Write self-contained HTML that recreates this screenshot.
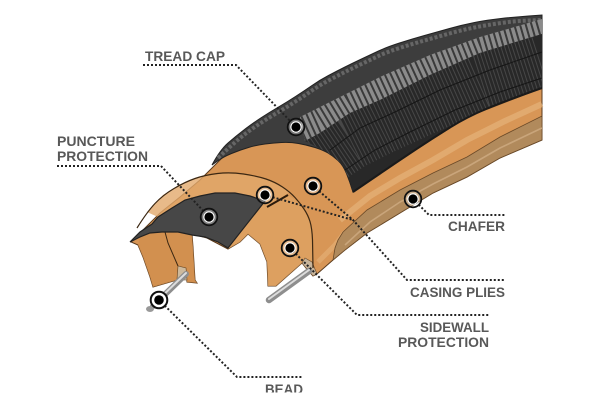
<!DOCTYPE html>
<html>
<head>
<meta charset="utf-8">
<style>
  html, body { margin: 0; padding: 0; background: #ffffff; overflow: hidden; }
  svg { display: block; }
  text { font-family: "Liberation Sans", Arial, sans-serif; font-weight: bold; fill: #585858; font-size: 14px; }
</style>
</head>
<body>
<svg width="600" height="409" viewBox="0 0 600 409" xmlns="http://www.w3.org/2000/svg">
  <defs>
    <clipPath id="lb">
      <path d="M300,117 L320,107 L350,92 L380,77 L430,55 L480,37 L542,19 L542,34 L480,53 L430,75 L380,100 L350,113 L320,133 L305,141 Z"/>
    </clipPath>
    <clipPath id="rb">
      <path d="M305,141 L320,133 L350,113 L380,100 L430,75 L480,53 L542,34 L542,88 L505,101 L467,117 L433,138 L400,160 L375,177 L353,192 L350,182 L343,165 L333,156 L323,150 Z"/>
    </clipPath>
    <clipPath id="chf">
      <path d="M343,232 L367,210 L400,190 L433,173 L467,157 L500,137 L542,116 L542,140 L500,158 L467,177 L433,193 L400,213 L367,233 L345,250 L333,260 L335,248 L338,240 Z"/>
    </clipPath>
  </defs>

  <rect x="0" y="0" width="600" height="409" fill="#ffffff"/>

  <!-- Orange casing mass -->
  <path d="M131,242 L145,228 L160,213 L180,197 L200,180 L213,167 L240,140 L290,130 L340,150 L353,192
           L400,160 L467,117 L542,88 L542,140
           L500,158 L467,177 L433,193 L400,213 L367,233 L345,250 L333,260
           L317,274 L313,276 L306,268 L302,263 L276,286 L268,286
           L267,262 L260,244 L248,234 L240,242 L228,249 L207,238 L192,234
           L193,247 L195,280 L197,283 L187,282 L186,268 L178,266 L177,280 L153,287
           L150,277 L143,257 L138,245 Z"
        fill="#d89656" stroke="#5a3a1c" stroke-width="1"/>

  <!-- tint variations on the front face -->
  <path d="M147,212 L163,195 L185,182 L205,175 L230,172 L257,176 L275,182 L290,192 L267,207 L265,201 L235,193 L200,196 L172,208 L158,217 Z" fill="#e2a96c" opacity="0.8"/>
  <path d="M265,201 L288,195 L300,203 L308,215 L312,228 L313,268 L302,263 L276,286 L268,286 L267,262 L260,244 L248,234 L240,242 L228,249 Z" fill="#dfa263" opacity="0.8"/>
  <path d="M140,237 L150,233 L162,232 L178,232 L192,235 L193,247 L195,280 L197,283 L187,282 L186,268 L178,266 L177,280 L153,287 L150,277 L143,257 L138,245 Z" fill="#d18f4e" opacity="0.8"/>

  <!-- sidewall lighter stripe -->
  <path d="M340,220 L370,196 L400,178 L433,160 L467,140 L505,121 L542,104" fill="none" stroke="#e6b27a" stroke-width="6" opacity="0.7"/>
  <path d="M318,262 L335,245 L345,232" fill="none" stroke="#e6b27a" stroke-width="5" opacity="0.6"/>

  <!-- Chafer band -->
  <path d="M343,232 L367,210 L400,190 L433,173 L467,157 L500,137 L542,116 L542,140 L500,158 L467,177 L433,193 L400,213 L367,233 L345,250 L333,260 L335,248 L338,240 Z"
        fill="#b18a5c" stroke="#6b4a28" stroke-width="0.8"/>
  <path d="M345,245 L370,222 L400,202 L433,184 L467,167 L500,148 L542,128" fill="none" stroke="#c9a57b" stroke-width="1.6" clip-path="url(#chf)"/>

  <!-- bead notch tabs -->
  <path d="M302,263 L306,268 L313,276 L317,274 L312,262 L305,258 Z" fill="#c7b49a" stroke="#6b4a28" stroke-width="0.6"/>
  <path d="M178,266 L186,268 L187,280 L177,280 Z" fill="#cdb99c" stroke="#6b4a28" stroke-width="0.6"/>

  <!-- internal casing lines -->
  <path d="M137,228 Q147,212 155,203.5 Q163,195 174,188.5 Q185,182 195,178.5 Q205,175 217.5,173.5 Q230,172 243.5,174 Q257,176 266,179 Q275,182 282.5,187 Q290,192 295,197.5 Q300,203 304,209 Q308,215 310,221.5 Q312,228 312.5,240 L313,268" fill="none" stroke="#3b2712" stroke-width="1.2"/>
  <path d="M267,207 L288,195" fill="none" stroke="#2b1b0c" stroke-width="2"/>
  <path d="M165,232 L168,243 L178,266" fill="none" stroke="#3b2712" stroke-width="1"/>

  <!-- Tread cap -->
  <path d="M212,165 Q220,150 228,143 Q236,136 244.5,129.5 Q253,123 261.5,117.5 Q270,112 278.5,107 Q287,102 295.5,96.5 Q304,91 312,85.5 Q320,80 328.5,75.5 Q337,71 345,67 Q353,63 361.5,59 Q370,55 378.5,51 Q387,47 399.5,43 Q412,39 424.5,35.5 Q437,32 449.5,28.5 Q462,25 474.5,22.5 Q487,20 501,18.5 Q515,17 528.5,16 L542,15
           L542,88 Q505,101 486,109 Q467,117 450,127.5 Q433,138 416.5,149 Q400,160 387.5,168.5 Q375,177 364,184.5 L353,192
           Q350,182 346.5,173.5 Q343,165 338,160.5 Q333,156 328,153 Q323,150 315,147.5 Q307,145 298.5,143.5 Q290,142 281.5,142.5 Q273,143 265,144 Q257,145 248.5,147.5 Q240,150 231.5,153.5 Q223,157 217.5,161 Z"
        fill="#3d3d3d" stroke="#222" stroke-width="1"/>
  <!-- small blocks along outer edge -->
  <path d="M218,158 Q236,141 244.5,134.5 Q253,128 261.5,122.5 Q270,117 278.5,112 Q287,107 295.5,101.5 Q304,96 312,90.5 Q320,85 328.5,80.5 Q337,76 345,72 Q353,68 361.5,64 Q370,60 378.5,56 Q387,52 399.5,48 Q412,44 424.5,40.5 Q437,37 449.5,33.5 Q462,30 474.5,27.5 Q487,25 501,23 Q515,21 528.5,20.5 L542,20"
        fill="none" stroke="#666" stroke-width="4" stroke-dasharray="3 2"/>
  <!-- light blocks band -->
  <path d="M300,117 L320,107 L350,92 L380,77 L430,55 L480,37 L542,19 L542,34 L480,53 L430,75 L380,100 L350,113 L320,133 L305,141 Z" fill="#8b8b8b"/>
  <path d="M300,129 L320,120 L350,102 L380,88 L430,65 L480,45 L542,27" fill="none" stroke="#3a3a3a" stroke-width="34" stroke-dasharray="2 3.5" clip-path="url(#lb)"/>
  <!-- ribbed region -->
  <path d="M305,141 L320,133 L350,113 L380,100 L430,75 L480,53 L542,34 L542,88 L505,101 L467,117 L433,138 L400,160 L375,177 L353,192 L350,182 L343,165 L333,156 L323,150 Z" fill="#282828"/>
  <path d="M320,160 L350,140 L380,125 L430,102 L480,80 L542,60" fill="none" stroke="#474747" stroke-width="60" stroke-dasharray="1 2.6" clip-path="url(#rb)"/>
  <path d="M330,150 L360,128 L395,112 L440,90 L490,70 L542,52" fill="none" stroke="#161616" stroke-width="1"/>
  <path d="M345,170 L375,150 L410,132 L455,110 L500,92 L542,78" fill="none" stroke="#161616" stroke-width="1"/>
  <path d="M542,88 Q505,101 486,109 Q467,117 450,127.5 Q433,138 416.5,149 Q400,160 387.5,168.5 Q375,177 364,184.5 L353,192" fill="none" stroke="#1a1a1a" stroke-width="2"/>

  <!-- Puncture protection strip -->
  <path d="M130,242 L140,232 L152,224 L158,217 L172,208 L185,200 L200,196 L215,193 L235,193 L250,196 L265,201 L228,248 L218,242 L205,237 L192,235 L178,232 L162,232 L150,233 L140,237 Z"
        fill="#474747" stroke="#222" stroke-width="1.2"/>

  <!-- Bead wires -->
  <line x1="186" y1="274" x2="153" y2="306" stroke="#8e8e8e" stroke-width="6" stroke-linecap="round"/>
  <line x1="186" y1="273" x2="153" y2="305" stroke="#dcdcdc" stroke-width="2" stroke-linecap="round"/>
  <line x1="309" y1="271" x2="269" y2="300" stroke="#8e8e8e" stroke-width="6.5" stroke-linecap="round"/>
  <line x1="309" y1="270" x2="269" y2="299" stroke="#dcdcdc" stroke-width="2" stroke-linecap="round"/>
  <ellipse cx="150" cy="309" rx="4" ry="3" fill="#999"/>

  <!-- Dotted leader lines -->
  <g fill="none" stroke="#222" stroke-width="2" stroke-dasharray="2 2">
    <polyline points="143,65 236,65 296,127"/>
    <polyline points="57,166 161,166 209,217"/>
    <polyline points="413,199 429,215 505,215"/>
    <polyline points="265,195 353,220"/>
    <polyline points="313,186 353,220 407,280 505,280"/>
    <polyline points="290,248 357,315 489,315"/>
    <polyline points="159,300 237,377 303,377"/>
  </g>

  <!-- Markers -->
  <g>
    <g transform="translate(296,127)"><circle r="8.3" fill="rgba(255,255,255,0.3)" stroke="#111" stroke-width="1.8"/><circle r="5.7" fill="#fff"/><circle r="4.6" fill="#000"/></g>
    <g transform="translate(209,217)"><circle r="8.3" fill="rgba(255,255,255,0.3)" stroke="#111" stroke-width="1.8"/><circle r="5.7" fill="#fff"/><circle r="4.6" fill="#000"/></g>
    <g transform="translate(265,195)"><circle r="8.3" fill="rgba(255,255,255,0.3)" stroke="#111" stroke-width="1.8"/><circle r="5.7" fill="#fff"/><circle r="4.6" fill="#000"/></g>
    <g transform="translate(313,186)"><circle r="8.3" fill="rgba(255,255,255,0.3)" stroke="#111" stroke-width="1.8"/><circle r="5.7" fill="#fff"/><circle r="4.6" fill="#000"/></g>
    <g transform="translate(413,199)"><circle r="8.3" fill="rgba(255,255,255,0.3)" stroke="#111" stroke-width="1.8"/><circle r="5.7" fill="#fff"/><circle r="4.6" fill="#000"/></g>
    <g transform="translate(290,248)"><circle r="8.3" fill="rgba(255,255,255,0.3)" stroke="#111" stroke-width="1.8"/><circle r="5.7" fill="#fff"/><circle r="4.6" fill="#000"/></g>
    <g transform="translate(159,300)"><circle r="8.3" fill="#fff" stroke="#111" stroke-width="2"/><circle r="5.7" fill="#fff"/><circle r="4.8" fill="#000"/></g>
  </g>

  <!-- Labels -->
  <text x="145" y="61" textLength="80" lengthAdjust="spacingAndGlyphs">TREAD CAP</text>
  <text x="57" y="146" textLength="78" lengthAdjust="spacingAndGlyphs">PUNCTURE</text>
  <text x="57" y="161" textLength="91" lengthAdjust="spacingAndGlyphs">PROTECTION</text>
  <text x="448" y="231" textLength="57" lengthAdjust="spacingAndGlyphs">CHAFER</text>
  <text x="410" y="297" textLength="95" lengthAdjust="spacingAndGlyphs">CASING PLIES</text>
  <text x="420" y="332" textLength="69" lengthAdjust="spacingAndGlyphs">SIDEWALL</text>
  <text x="398" y="347" textLength="91" lengthAdjust="spacingAndGlyphs">PROTECTION</text>
  <text x="265" y="394" textLength="38" lengthAdjust="spacingAndGlyphs">BEAD</text>

  <!-- bottom crop (BEAD label is cut off in reference) -->
  <rect x="0" y="392.5" width="600" height="17" fill="#ffffff"/>
</svg>
</body>
</html>
